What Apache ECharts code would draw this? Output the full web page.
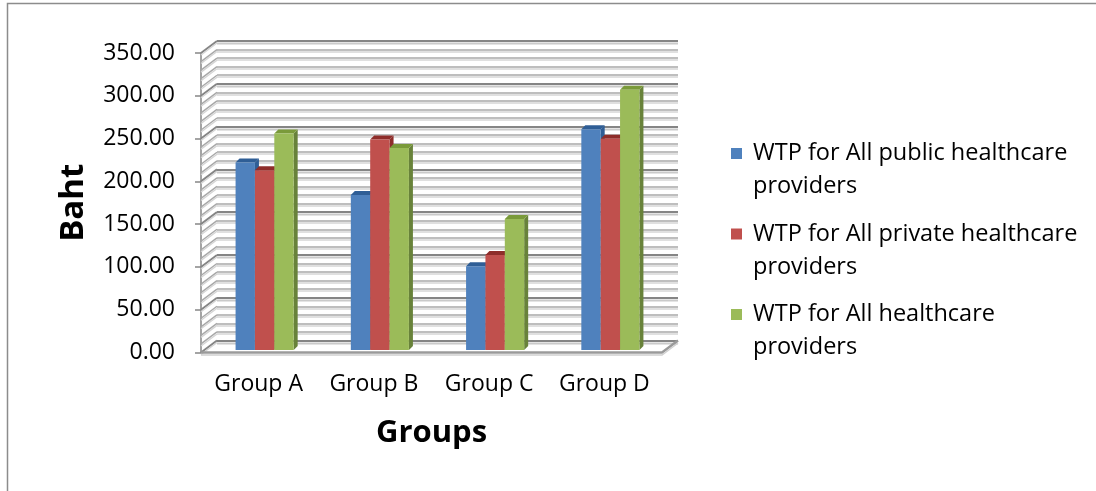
<!DOCTYPE html>
<html>
<head>
<meta charset="utf-8">
<script src="https://cdn.jsdelivr.net/npm/echarts@6/dist/echarts.min.js"></script>
<style>
  html, body { margin: 0; padding: 0; background: #ffffff; }
  #chart { width: 1096px; height: 491px; }
</style>
</head>
<body>
<div id="chart"></div>
<script>
// Categories and values (Baht)
const groups = ['Group A', 'Group B', 'Group C', 'Group D'];
const seriesNames = [
  'WTP for All public healthcare providers',
  'WTP for All private healthcare providers',
  'WTP for All healthcare providers'
];
const publicWTP  = [219, 181, 98, 258];
const privateWTP = [210, 246, 111, 247];
const allWTP     = [253, 236, 153, 304];

// Value axis range
const yMin = 0, yMax = 350, yStep = 50, yMinorStep = 10;

// Pseudo-3D geometry: depth offset of the back wall, bar plane offset, bar depth
const DX = 16, DY = -12;
const PX = 6, PY = -2.5;
const BAR_DEPTH = 4;
const BAR_FRACTION = 0.168;

const palette = [
  { front: '#4F81BD', top: '#2F5E96', side: '#2F5E96' },
  { front: '#C0504D', top: '#8E2D2A', side: '#8E2D2A' },
  { front: '#9BBB59', top: '#7A9A3A', side: '#68823A' }
];

const FONT = '"Open Sans", "Noto Sans", sans-serif';
const MAJOR = '#858585', MINOR = '#A8A8A8';

// Gridline positions for the side wall hatching
const wallTicks = [];
for (let v = yMin; v <= yMax; v += yMinorStep) wallTicks.push(v);

function barRenderer(s) {
  return function (params, api) {
    const cat = api.value(0), val = api.value(1);
    const topPt = api.coord([cat, val]);
    const basePt = api.coord([cat, 0]);
    const band = api.size([1, 0])[0];
    const bw = band * BAR_FRACTION;
    const x0 = topPt[0] + PX - 1.5 * bw + s * bw;
    const x1 = x0 + bw;
    const yt = topPt[1] + PY;
    const yb = basePt[1] + PY;
    const d = BAR_DEPTH;
    const c = palette[s];
    return {
      type: 'group',
      children: [
        { type: 'polygon', shape: { points: [[x1, yt], [x1 + d, yt - d], [x1 + d, yb - d], [x1, yb]] },
          style: { fill: c.side } },
        { type: 'polygon', shape: { points: [[x0, yt], [x1, yt], [x1 + d, yt - d], [x0 + d, yt - d]] },
          style: { fill: c.top } },
        { type: 'rect', shape: { x: x0, y: yt, width: bw, height: yb - yt },
          style: { fill: c.front } }
      ]
    };
  };
}

function wallRenderer(params, api) {
  const cs = params.coordSys;
  const v = api.value(1);
  const y = api.coord([0, v])[1];
  const major = v % yStep === 0;
  const color = major ? MAJOR : MINOR;
  const children = [
    { type: 'line', shape: { x1: cs.x, y1: y, x2: cs.x + DX, y2: y + DY },
      style: { stroke: color, lineWidth: major ? 2 : 1.5 } },
    { type: 'line', shape: { x1: cs.x, y1: y + 2, x2: cs.x + DX, y2: y + DY + 2 },
      style: { stroke: '#D4D4D4', lineWidth: 1.3 } }
  ];
  if (v === yMin) {
    const xr = cs.x + cs.width;
    children.push(
      { type: 'polyline', shape: { points: [[cs.x, y], [xr, y], [xr + DX, y + DY]] },
        style: { stroke: '#9A9A9A', lineWidth: 2.5, fill: null } },
      { type: 'polyline', shape: { points: [[cs.x, y + 2.5], [xr, y + 2.5], [xr + DX, y + DY + 2.5]] },
        style: { stroke: '#D0D0D0', lineWidth: 1.5, fill: null } }
    );
  }
  return { type: 'group', children: children };
}

const valueLists = [publicWTP, privateWTP, allWTP];
const barSeries = valueLists.map(function (vals, s) {
  return {
    name: seriesNames[s],
    type: 'custom',
    xAxisIndex: 0,
    yAxisIndex: 0,
    itemStyle: { color: palette[s].front },
    renderItem: barRenderer(s),
    encode: { x: 0, y: 1 },
    data: vals.map(function (v, i) { return [i, v]; }),
    z: 10
  };
});

const chart = echarts.init(document.getElementById('chart'), null, { renderer: 'canvas' });

chart.setOption({
  animation: false,
  backgroundColor: '#ffffff',
  graphic: [
    { type: 'polyline', shape: { points: [[7.5, 495], [7.5, 3.5], [1100, 3.5]] },
      style: { stroke: '#8C8C8C', lineWidth: 1.5, fill: null }, z: 0 }
  ],
  grid: [
    { left: 201, right: 434, top: 53, bottom: 138.5 },
    { left: 217, right: 418, top: 41, bottom: 150.5 }
  ],
  xAxis: [
    {
      type: 'category', gridIndex: 0, data: groups,
      axisLine: { show: false }, axisTick: { show: false },
      axisLabel: { interval: 0, hideOverlap: false, margin: 20, color: '#000', fontFamily: FONT, fontSize: 23 },
      name: 'Groups', nameLocation: 'middle', nameGap: 65,
      nameTextStyle: { color: '#000', fontFamily: FONT, fontSize: 31, fontWeight: 'bold' }
    },
    {
      type: 'category', gridIndex: 1, data: groups,
      axisLine: { show: false }, axisTick: { show: false }, axisLabel: { show: false }
    }
  ],
  yAxis: [
    {
      type: 'value', gridIndex: 0, min: yMin, max: yMax, interval: yStep,
      axisLine: { show: true, lineStyle: { color: '#868686', width: 1.5 } },
      axisTick: { show: true, inside: false, length: 6, lineStyle: { color: '#868686', width: 1.5 } },
      splitLine: { show: false },
      axisLabel: {
        margin: 26, color: '#000', fontFamily: FONT, fontSize: 23,
        formatter: function (v) { return v.toFixed(2); }
      },
      name: 'Baht', nameLocation: 'middle', nameGap: 111, nameRotate: 90,
      nameTextStyle: { color: '#000', fontFamily: FONT, fontSize: 33, fontWeight: 'bold' }
    },
    {
      type: 'value', gridIndex: 1, min: yMin, max: yMax, interval: yStep,
      axisLine: { show: false }, axisTick: { show: false }, axisLabel: { show: false },
      splitLine: { show: true, lineStyle: { color: MAJOR, width: 2.2, shadowColor: '#CACACA', shadowOffsetY: 2.5, shadowBlur: 0 } },
      minorTick: { show: false, splitNumber: 5 },
      minorSplitLine: { show: true, lineStyle: { color: MINOR, width: 1.6, shadowColor: '#D6D6D6', shadowOffsetY: 2, shadowBlur: 0 } }
    }
  ],
  legend: {
    orient: 'vertical', left: 731, top: 104, padding: 0,
    itemWidth: 11, itemHeight: 11, itemGap: -18.5, icon: 'rect',
    data: seriesNames,
    // blank first line keeps the swatch level with the first text line
    formatter: function (name) { return ' \n' + name.replace(/ (providers)$/, '\n$1'); },
    textStyle: { color: '#000', fontFamily: FONT, fontSize: 23.5, lineHeight: 33, padding: [0, 0, 0, 6] }
  },
  series: [
    {
      name: 'walls', type: 'custom', xAxisIndex: 0, yAxisIndex: 0, silent: true,
      renderItem: wallRenderer, encode: { x: 0, y: 1 },
      data: wallTicks.map(function (v) { return [0, v]; }), z: 2
    }
  ].concat(barSeries)
});
</script>
</body>
</html>
